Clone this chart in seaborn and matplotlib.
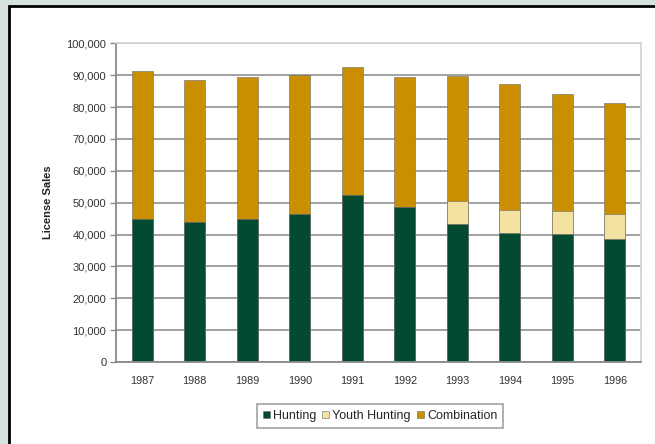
import numpy as np
import pandas as pd
import matplotlib
matplotlib.use('Agg')
import matplotlib.pyplot as plt
from matplotlib.patches import Rectangle
from matplotlib.ticker import FuncFormatter, MultipleLocator
import seaborn as sns

# Data (license sales)
years = ['1987', '1988', '1989', '1990', '1991', '1992', '1993', '1994', '1995', '1996']
hunting = [45000, 43800, 44900, 46500, 52300, 48700, 43200, 40500, 40100, 38500]
youth_hunting = [0, 0, 0, 0, 0, 0, 7300, 7100, 7300, 7800]
combination = [46400, 44700, 44500, 43600, 40400, 40600, 39300, 39600, 36800, 35000]

df = pd.DataFrame({
    'Year': years,
    'Hunting': hunting,
    'Youth Hunting': youth_hunting,
    'Combination': combination,
})
# cumulative heights for stacking
df['hy'] = df['Hunting'] + df['Youth Hunting']
df['total'] = df['hy'] + df['Combination']

colors = {'Hunting': '#024a30', 'Youth Hunting': '#f3e1a2', 'Combination': '#c98f00'}

sns.set_style('white')
plt.rcParams['font.family'] = ['Liberation Sans', 'DejaVu Sans']

fig = plt.figure(figsize=(6.55, 4.44), dpi=100)
fig.patch.set_facecolor('#d6e2dc')

# white panel with black border
W, H = 655, 444
panel = Rectangle((9 / W, -0.1), 1.2, 1 - 6 / H + 0.1, transform=fig.transFigure,
                  facecolor='white', edgecolor='black', linewidth=2, zorder=-5)
fig.add_artist(panel)

ax = fig.add_axes([116 / W, 1 - 362 / H, (641 - 116) / W, (362 - 43.3) / H])
ax.set_zorder(1)
ax.set_facecolor('white')

bar_kw = dict(width=0.4, edgecolor='#6b6b6b', linewidth=0.4, saturation=1, ax=ax, order=years)
sns.barplot(data=df, x='Year', y='total', color=colors['Combination'], label='Combination', **bar_kw)
sns.barplot(data=df, x='Year', y='hy', color=colors['Youth Hunting'], label='Youth Hunting', **bar_kw)
sns.barplot(data=df, x='Year', y='Hunting', color=colors['Hunting'], label='Hunting', **bar_kw)

ax.set_xlim(-0.5, 9.5)
ax.set_ylim(0, 100000)
ax.yaxis.set_major_locator(MultipleLocator(10000))
ax.yaxis.set_major_formatter(FuncFormatter(lambda v, p: f'{int(v):,}'))
ax.set_axisbelow(True)
ax.yaxis.grid(True, color='#9a9a9a', linewidth=1.3)

for s in ['top', 'right']:
    ax.spines[s].set_color('#d4d4d4')
    ax.spines[s].set_linewidth(1.3)
for s in ['left', 'bottom']:
    ax.spines[s].set_color('#8a8a8a')
    ax.spines[s].set_linewidth(1.3)

# tick marks between categories on x, outward on y
ax.set_xticks(np.arange(-0.5, 10, 1), minor=True)
ax.tick_params(axis='x', which='major', length=0, labelsize=7.8, colors='#333333', pad=10)
ax.tick_params(axis='x', which='minor', length=4, width=1, color='#8a8a8a', direction='out')
ax.tick_params(axis='y', which='major', length=4, width=1, color='#8a8a8a', direction='out',
               left=True, labelsize=8, labelcolor='#333333', pad=3)

ax.set_xlabel('')
ax.set_ylabel('License Sales', fontsize=8, fontweight='bold', color='#222222', labelpad=10)

handles, labels = ax.get_legend_handles_labels()
order = [labels.index(n) for n in ['Hunting', 'Youth Hunting', 'Combination']]
leg = ax.legend([handles[i] for i in order], [labels[i] for i in order],
                loc='center', bbox_to_anchor=(380 / W, 1 - 416 / H), bbox_transform=fig.transFigure,
                ncol=3, fontsize=9, frameon=True, fancybox=False, handlelength=0.55, handleheight=0.55,
                handletextpad=0.25, columnspacing=0.5, borderpad=0.45, borderaxespad=0)
leg.get_frame().set_edgecolor('#8a8a8a')
leg.get_frame().set_linewidth(1.2)

fig.savefig('out.png', dpi=100, facecolor=fig.get_facecolor())
